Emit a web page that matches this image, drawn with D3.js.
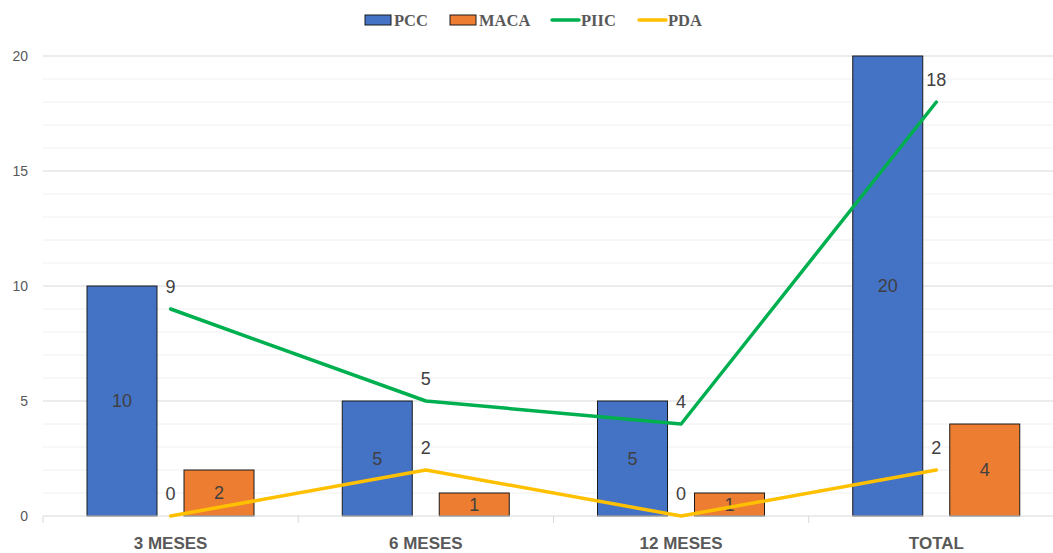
<!DOCTYPE html>
<html lang="en">
<head>
    <script src="https://d3js.org/d3.v7.min.js"></script>
    <style>
        body { margin: 0; background: #fff; }
        text { font-family: "Liberation Sans", Arial, sans-serif; }
        text.serif { font-family: "Liberation Serif", "DejaVu Serif", serif; }
    </style>
</head>
<body>
    <svg></svg>
    <script>
        // chart data
        const categories = ['3 MESES', '6 MESES', '12 MESES', 'TOTAL']
        const pcc = [10, 5, 5, 20]
        const maca = [2, 1, 1, 4]
        const piic = [9, 5, 4, 18]
        const pda = [0, 2, 0, 2]
        const yTicks = [0, 5, 10, 15, 20]

        const W = 1053, H = 553
        const plotL = 43, plotR = 1064, plotT = 56, plotB = 516

        const svg = d3.select('svg')
            .attr('width', W)
            .attr('height', H)

        const x = d3.scaleBand()
            .domain(categories)
            .range([plotL, plotR])

        const y = d3.scaleLinear()
            .domain([0, 20])
            .range([plotB, plotT])

        // minor gridlines, one per unit
        svg.append('g')
            .selectAll('line')
            .data(d3.range(1, 20).filter(v => v % 5 !== 0))
            .enter()
            .append('line')
            .attr('x1', plotL).attr('x2', plotR)
            .attr('y1', d => y(d)).attr('y2', d => y(d))
            .attr('stroke', '#f0f0f0')
            .attr('stroke-width', 1)

        // major gridlines
        svg.append('g')
            .selectAll('line')
            .data(yTicks.slice(1))
            .enter()
            .append('line')
            .attr('x1', plotL).attr('x2', plotR)
            .attr('y1', d => y(d)).attr('y2', d => y(d))
            .attr('stroke', '#d9d9d9')
            .attr('stroke-width', 1)

        // y labels
        svg.append('g')
            .selectAll('text')
            .data(yTicks)
            .enter()
            .append('text')
            .attr('x', 28)
            .attr('y', d => y(d))
            .attr('dy', '0.35em')
            .attr('text-anchor', 'end')
            .attr('font-size', 14)
            .attr('fill', '#595959')
            .text(d => d)

        // bars
        const barW = 70, outerGap = 44, innerGap = 27
        const series = [
            { name: 'PCC', values: pcc, color: '#4472C4', offset: outerGap },
            { name: 'MACA', values: maca, color: '#ED7D31', offset: outerGap + barW + innerGap }
        ]
        series.forEach(s => {
            const g = svg.append('g')
            g.selectAll('rect')
                .data(s.values)
                .enter()
                .append('rect')
                .attr('x', (d, i) => x(categories[i]) + s.offset)
                .attr('y', d => y(d))
                .attr('width', barW)
                .attr('height', d => y(0) - y(d))
                .attr('fill', s.color)
                .attr('stroke', '#1a1a1a')
                .attr('stroke-width', 1)
            s.g = g
        })

        // x axis line + category ticks
        svg.append('line')
            .attr('x1', plotL).attr('x2', plotR)
            .attr('y1', y(0)).attr('y2', y(0))
            .attr('stroke', '#d9d9d9')
        svg.append('g')
            .selectAll('line')
            .data(categories.concat(['end']))
            .enter()
            .append('line')
            .attr('x1', (d, i) => plotL + i * x.bandwidth())
            .attr('x2', (d, i) => plotL + i * x.bandwidth())
            .attr('y1', y(0)).attr('y2', y(0) + 7)
            .attr('stroke', '#d9d9d9')

        svg.append('g')
            .selectAll('text')
            .data(categories)
            .enter()
            .append('text')
            .attr('x', d => x(d) + x.bandwidth() / 2)
            .attr('y', 549)
            .attr('text-anchor', 'middle')
            .attr('font-size', 17)
            .attr('font-weight', 'bold')
            .attr('fill', '#595959')
            .text(d => d)

        // lines
        const lines = [
            { name: 'PIIC', values: piic, color: '#00B050' },
            { name: 'PDA', values: pda, color: '#FFC000' }
        ]
        const lineGen = d3.line()
            .x((d, i) => x(categories[i]) + x.bandwidth() / 2)
            .y(d => y(d))
        lines.forEach(l => {
            svg.append('path')
                .datum(l.values)
                .attr('d', lineGen)
                .attr('fill', 'none')
                .attr('stroke', l.color)
                .attr('stroke-width', 3.5)
                .attr('stroke-linecap', 'round')
                .attr('stroke-linejoin', 'round')
        })

        // bar labels (centered)
        series.forEach(s => {
            s.g.selectAll('text')
                .data(s.values)
                .enter()
                .append('text')
                .attr('x', (d, i) => x(categories[i]) + s.offset + barW / 2)
                .attr('y', d => (y(d) + y(0)) / 2)
                .attr('dy', '0.35em')
                .attr('text-anchor', 'middle')
                .attr('font-size', 18)
                .attr('fill', '#404040')
                .text(d => d)
        })

        // line labels (above)
        lines.forEach(l => {
            svg.append('g')
                .selectAll('text')
                .data(l.values)
                .enter()
                .append('text')
                .attr('x', (d, i) => x(categories[i]) + x.bandwidth() / 2)
                .attr('y', d => y(d) - 22)
                .attr('dy', '0.35em')
                .attr('text-anchor', 'middle')
                .attr('font-size', 18)
                .attr('fill', '#404040')
                .text(d => d)
        })

        // legend
        const legend = [
            { name: 'PCC', color: '#4472C4', type: 'rect', x: 365 },
            { name: 'MACA', color: '#ED7D31', type: 'rect', x: 450 },
            { name: 'PIIC', color: '#00B050', type: 'line', x: 552 },
            { name: 'PDA', color: '#FFC000', type: 'line', x: 639 }
        ]
        const lg = svg.append('g')
        legend.forEach(it => {
            if (it.type === 'rect') {
                lg.append('rect')
                    .attr('x', it.x).attr('y', 15)
                    .attr('width', 26).attr('height', 10)
                    .attr('fill', it.color)
                    .attr('stroke', '#1a1a1a')
                    .attr('stroke-width', 1)
            } else {
                lg.append('line')
                    .attr('x1', it.x).attr('x2', it.x + 27)
                    .attr('y1', 20).attr('y2', 20)
                    .attr('stroke', it.color)
                    .attr('stroke-width', 3.5)
                    .attr('stroke-linecap', 'round')
            }
            lg.append('text')
                .attr('class', 'serif')
                .attr('x', it.x + 29)
                .attr('y', 20)
                .attr('dy', '0.35em')
                .attr('font-size', 16.5)
                .attr('font-weight', 'bold')
                .attr('fill', '#595959')
                .text(it.name)
        })
    </script>
</body>
</html>
